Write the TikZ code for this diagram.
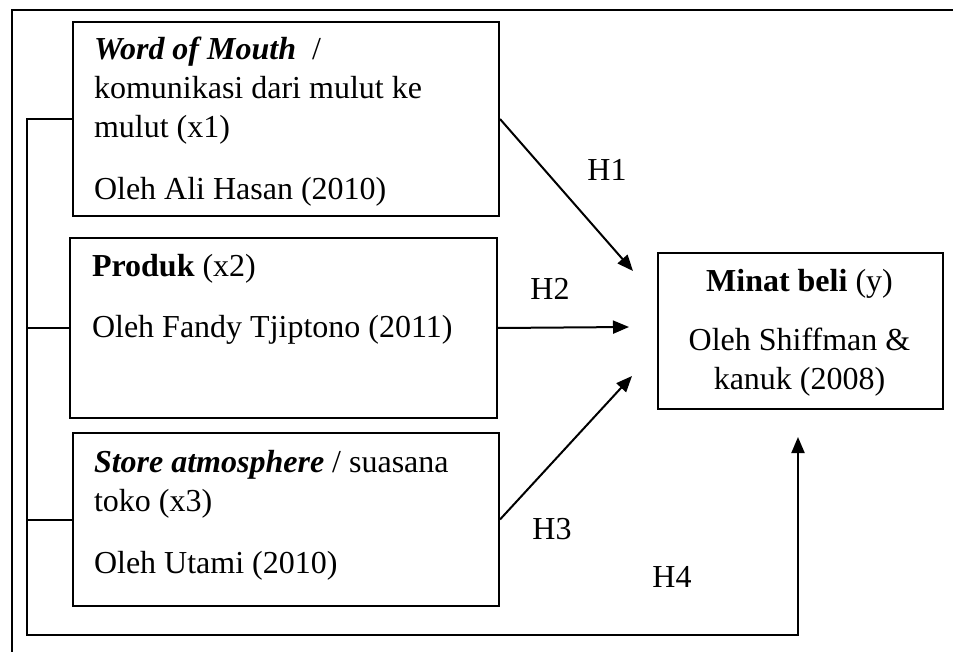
\documentclass[tikz,border=0pt]{standalone}
\usepackage{fontspec}
\setmainfont{Liberation Serif}
\usetikzlibrary{arrows.meta}
\begin{document}
\begin{tikzpicture}[x=0.5pt,y=-0.5pt,line width=1pt,
    kotak/.style={draw,anchor=north west,inner sep=0pt},
    isi/.style={anchor=base west,inner sep=0pt,text width=195pt,align=flush left,
        font=\fontsize{16}{19.5}\selectfont},
    hipo/.style={inner sep=0pt,font=\fontsize{16}{19.5}\selectfont},
    panah/.style={-{Triangle[length=8pt,width=6.5pt]}}]
    \useasboundingbox (0,0) rectangle (953,652);
    \draw (953,10) -- (12,10) -- (12,652);
    % kotak variabel
    \node[kotak,minimum width=213pt,minimum height=97pt] (wom) at (72,21) {};
    \node[kotak,minimum width=213.5pt,minimum height=90pt] (produk) at (69,237) {};
    \node[kotak,minimum width=213pt,minimum height=86.5pt] (store) at (72,432) {};
    \node[kotak,minimum width=142.5pt,minimum height=78pt] (minat) at (657,252) {};
    % isi kotak
    \node[isi] (wom-isi) at (93,60) {\textbf{\textit{Word of Mouth}}\hspace{8pt}/\\
        komunikasi dari mulut ke\\ mulut (x1)\\[11.5pt] Oleh Ali Hasan (2010)};
    \node[isi] (produk-isi) at (91,277) {\textbf{Produk} (x2)\\[11pt]
        Oleh Fandy Tjiptono (2011)};
    \node[isi] (store-isi) at (93,472) {\textbf{\textit{Store atmosphere}} / suasana\\
        toko (x3)\\[11.5pt] Oleh Utami (2010)};
    \node[isi,anchor=base,text width=140pt,align=flush center] (minat-isi) at (799.5,292)
        {\textbf{Minat beli} (y)\\[10pt] Oleh Shiffman \&\\ kanuk (2008)};
    % panah hipotesis
    \coordinate (h1-ujung) at (633,271);
    \coordinate (h2-ujung) at (629,327);
    \coordinate (h3-ujung) at (632,376);
    \coordinate (h4-ujung) at (798,437);
    \coordinate (siku) at (27,635);
    \draw[panah] (wom.east) -- (h1-ujung);
    \draw[panah] (produk.east) -- (h2-ujung);
    \draw[panah] (store.east) -- (h3-ujung);
    \draw[panah] (wom.west) -| (siku) -| (h4-ujung);
    \draw (produk.west) -- (produk.west -| siku);
    \draw (store.west) -- (store.west -| siku);
    \node[hipo] (h1) at (607,170) {H1};
    \node[hipo] (h2) at (550,289) {H2};
    \node[hipo] (h3) at (552,529) {H3};
    \node[hipo] (h4) at (672,577) {H4};
\end{tikzpicture}
\end{document}
